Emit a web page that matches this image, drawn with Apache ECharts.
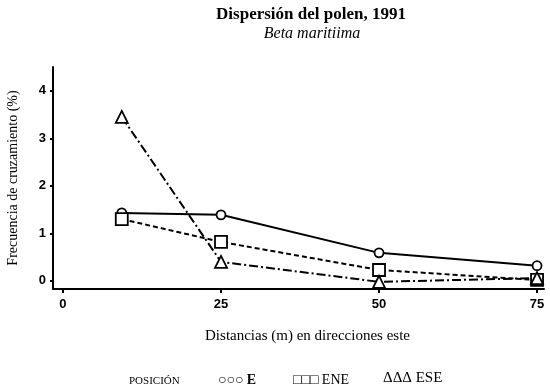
<!DOCTYPE html>
<html><head><meta charset="utf-8">
<script src="https://cdn.jsdelivr.net/npm/echarts@6/dist/echarts.min.js"></script>
<style>html,body{margin:0;padding:0;background:#fff}#c{width:550px;height:392px}</style>
</head><body><div id="c"></div>
<script>
const distances = [9.3, 25, 50, 75];
const serieE = [1.43, 1.39, 0.59, 0.32];
const serieENE = [1.30, 0.82, 0.23, 0.02];
const serieESE = [3.45, 0.40, -0.02, 0.06];
const xTicks = [0, 25, 50, 75];
const yTicks = [0, 1, 2, 3, 4];

const pairs = a => distances.map((d, i) => [d, a[i]]);
const serif = '"Liberation Serif", "DejaVu Serif", serif';
const chart = echarts.init(document.getElementById('c'));
const base = {
  type: 'line', symbolSize: 9, showSymbol: true, animation: false,
  itemStyle: { color: '#fff', borderColor: '#000', borderWidth: 1.8 },
};
chart.setOption({
  animation: false,
  title: [
    { text: 'Dispersión del polen, 1991', left: 306, top: 1, textAlign: 'center',
      textStyle: { fontFamily: serif, fontSize: 17, fontWeight: 'bold', color: '#000' } },
    { text: 'Beta maritiima', left: 307, top: 21, textAlign: 'center',
      textStyle: { fontFamily: serif, fontSize: 16, fontStyle: 'italic', fontWeight: 'normal', color: '#000' } }
  ],
  grid: { left: 53, right: 6, top: 67, bottom: 103, containLabel: false, outerBoundsMode: 'none' },
  xAxis: {
    type: 'value', min: -1.58, max: 76.1,
    name: 'Distancias (m) en direcciones este', nameLocation: 'middle', nameGap: 40,
    nameTextStyle: { fontFamily: serif, fontSize: 15, color: '#000', padding: [0, 0, 0, 18] },
    axisLine: { onZero: false, lineStyle: { color: '#000', width: 2 } },
    axisTick: { customValues: xTicks, length: 4, lineStyle: { color: '#000', width: 2 } },
    axisLabel: { customValues: xTicks, fontFamily: '"Liberation Sans", Arial, sans-serif', fontWeight: 'bold', fontSize: 13, color: '#000', margin: 9 },
    splitLine: { show: false }
  },
  yAxis: {
    type: 'value', min: -0.17, max: 4.5,
    name: 'Frecuencia de cruzamiento (%)', nameLocation: 'middle', nameGap: 33, nameRotate: 90,
    nameTextStyle: { fontFamily: serif, fontSize: 14, color: '#000' },
    axisLine: { show: true, onZero: false, lineStyle: { color: '#000', width: 2 } },
    axisTick: { show: true, customValues: yTicks, length: 3, lineStyle: { color: '#000', width: 2 } },
    axisLabel: { customValues: yTicks, fontFamily: '"Liberation Sans", Arial, sans-serif', fontWeight: 'bold', fontSize: 13, color: '#000', margin: 7 },
    splitLine: { show: false }
  },
  series: [
    Object.assign({}, base, { name: 'E', data: pairs(serieE), symbol: 'circle', symbolSize: 9,
      lineStyle: { color: '#000', width: 2, type: 'solid' } }),
    Object.assign({}, base, { name: 'ENE', data: pairs(serieENE), symbol: 'rect', symbolSize: 12,
      lineStyle: { color: '#000', width: 2, type: [5, 3] } }),
    Object.assign({}, base, { name: 'ESE', data: pairs(serieESE), symbol: 'triangle', symbolSize: 12,
      lineStyle: { color: '#000', width: 2, type: [9, 3, 2, 3] } })
  ],
  graphic: [
    { type: 'text', left: 129, top: 376, style: { text: 'POSICIÓN', font: '11px ' + serif, fill: '#000' } },
    { type: 'text', left: 218, top: 373, style: { text: '○○○ E', font: 'bold 14px ' + serif, fill: '#000' } },
    { type: 'text', left: 293, top: 373, style: { text: '□□□ ENE', font: '14px ' + serif, fill: '#000' } },
    { type: 'text', left: 383, top: 371, style: { text: 'ΔΔΔ ESE', font: '15px ' + serif, fill: '#000' } }
  ]
});
</script></body></html>
